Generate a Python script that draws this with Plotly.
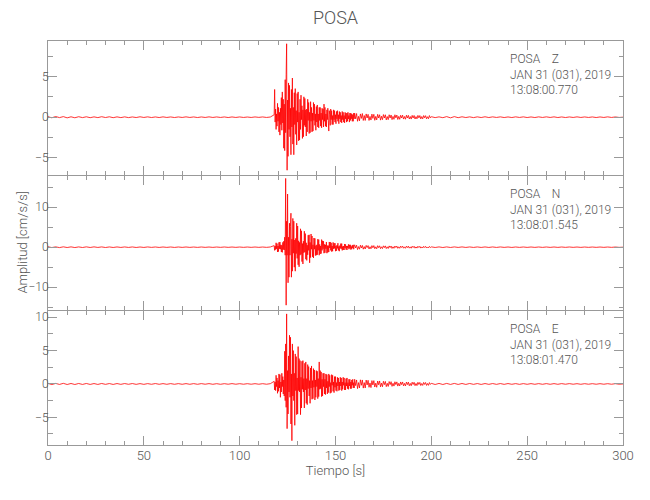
import numpy as np
import plotly.graph_objects as go

STATION = "POSA"
DATE_TXT = "JAN 31 (031), 2019"
COMPONENTS = ["Z", "N", "E"]
START_TIMES = ["13:08:00.770", "13:08:01.545", "13:08:01.470"]

T_PRE = np.arange(0, 118, 2.0)
T_MAIN = np.arange(118, 160, 0.25)
T_CODA = np.arange(160, 200, 0.5)
T_TAIL = np.arange(200, 300.5, 2.0)

# ---------------- Z component (cm/s/s) ----------------
z_pre = [0.06,-0.07,0.08,-0.05,0.07,-0.08,0.05,-0.07,0.06,-0.05,
         0.05,-0.06,0.04,-0.05,0.06,-0.04,0.05,-0.06,0.04,-0.05,
         0.04,-0.05,0.03,-0.04,0.05,-0.03,0.04,-0.04,0.03,-0.04,
         0.04,-0.03,0.03,-0.04,0.03,-0.03,0.04,-0.03,0.03,-0.04,
         0.03,-0.03,0.04,-0.03,0.03,-0.03,0.03,-0.04,0.03,-0.03,
         0.03,-0.03,0.02,-0.03,0.03,-0.02,0.03,-0.03,0.02]
z_main = [0.3,3.4,-0.6,1.0, -1.5,0.4,-1.1,1.7, -0.5,1.2,-1.8,0.6, -2.2,1.1,-0.9,2.4,
          -1.6,3.1,-0.7,2.2, -3.8,1.6,-4.1,4.6, -1.9,5.2,9.0,-6.5, 2.1,-4.8,4.2,-1.5,
          3.9,-2.4,1.1,-4.6, 3.4,-1.2,4.8,-3.3, 1.2,-4.6,3.0,-0.9, 3.5,-2.1,0.8,-3.4,
          2.9,-0.6,3.1,-2.9, 0.6,-2.8,2.2,-1.5, 2.7,-0.3,1.4,-2.6, 0.9,-2.4,2.5,-1.0,
          2.3,-1.2,0.9,-2.3, 1.0,-1.8,2.2,-0.4, 1.8,-2.0,0.6,-1.9, 1.9,-0.5,1.2,-1.8,
          0.5,-1.7,1.8,-0.4, 1.6,-1.0,0.4,-1.6, 1.3,-0.6,1.5,-1.2, 0.4,-1.3,1.2,-0.4,
          1.2,-1.1,0.5,-1.3, 1.1,-0.3,1.0,-1.2, 1.6,-0.5,1.2,-1.1, 0.4,-1.2,0.9,-0.3,
          1.1,-0.4,-1.7,0.8, 0.3,-1.0,1.0,-0.3, 0.8,-0.9,0.2,-0.9, 0.9,-0.3,0.8,-0.6,
          0.3,-0.8,0.7,-0.2, 0.8,-0.5,0.3,-0.8, 0.7,-0.2,0.6,-0.6, 0.2,-0.7,0.7,-0.3,
          0.6,-0.6,0.2,-0.7, 0.6,-0.2,0.5,-0.6, 0.5,-0.5,0.6,-0.2, 0.2,-0.6,0.5,-0.4,
          0.5,-0.2,0.4,-0.5, 0.3,-0.5,0.5,-0.2]
z_coda = [0.5,-0.2,0.45,-0.5,0.1,-0.45,0.4,-0.15,0.45,-0.4,
          0.2,-0.4,0.4,-0.1,0.35,-0.4,0.1,-0.35,0.38,-0.15,
          0.35,-0.38,0.1,-0.33,0.35,-0.1,0.3,-0.36,0.12,-0.3,
          0.32,-0.1,0.3,-0.33,0.08,-0.3,0.3,-0.1,0.27,-0.3,
          0.1,-0.26,0.3,-0.08,0.26,-0.28,0.1,-0.26,0.24,-0.1,
          0.25,-0.23,0.08,-0.25,0.24,-0.1,0.23,-0.22,0.08,-0.23,
          0.22,-0.1,0.21,-0.22,0.07,-0.2,0.22,-0.08,0.2,-0.21,
          0.08,-0.2,0.2,-0.07,0.19,-0.2,0.06,-0.19,0.2,-0.08]
z_tail = [0.06,-0.05,0.04,-0.06,0.07,-0.08,0.07,-0.06,0.05,-0.04,
          0.04,-0.05,0.04,-0.04,0.05,-0.04,0.04,-0.03,0.04,-0.04,
          0.03,-0.04,0.04,-0.03,0.04,-0.04,0.03,-0.04,0.04,-0.03,
          0.04,-0.03,0.04,-0.04,0.03,-0.04,0.03,-0.03,0.04,-0.03,
          0.03,-0.03,0.03,-0.04,0.03,-0.03,0.04,-0.03,0.03,-0.03,
          0.0]

# ---------------- N component ----------------
n_pre = [0.1,-0.09,0.08,-0.1,0.09,-0.08,0.08,-0.09,0.07,-0.08,
         0.08,-0.07,0.08,-0.06,0.07,-0.08,0.06,-0.07,0.06,-0.06,
         0.06,-0.06,0.06,-0.07,0.05,-0.06,0.06,-0.05,0.05,-0.06,
         0.05,-0.05,0.05,-0.06,0.05,-0.05,0.05,-0.05,0.04,-0.05,
         0.05,-0.04,0.04,-0.05,0.04,-0.04,0.05,-0.04,0.04,-0.04,
         0.04,-0.04,0.04,-0.04,0.04,-0.04,0.04,-0.04,0.05]
n_main = [0.4,-0.8,0.3,-0.6, 1.1,-0.4,0.9,-1.2, 0.3,-1.1,1.2,-0.4, 1.3,-0.5,0.6,-1.2,
          0.5,-1.3,1.2,-0.6, 1.5,-0.7,2.5,-2.0, 17.2,-14.5,6.5,-2.0, 13.3,-8.9,2.5,-7.5,
          6.0,-2.0,5.2,8.5, -7.5,2.0,-6.0,7.2, -1.5,6.5,-5.0,1.8, -6.0,2.2,-1.6,6.0,
          -2.8,5.3,-4.4,1.6, -4.9,1.2,-2.0,4.6, -1.8,4.1,-3.6,0.9, -4.2,1.5,-1.4,4.0,
          -1.2,3.4,-3.0,1.1, -3.3,0.5,-1.9,3.0, -0.8,3.1,-3.9,1.2, -2.6,3.3,-0.5,2.8,
          -2.4,0.6,-2.7,2.3, -0.5,2.2,-2.1,0.4, -2.0,0.6,-1.9,2.0, -0.8,1.9,-2.0,0.7,
          -1.7,0.3,-1.6,1.9, -0.8,1.6,-0.4,1.5, -1.5,0.7,-1.4,0.6, -0.4,1.3,-1.5,0.4,
          -1.3,0.4,-1.2,1.3, -0.2,1.3,-0.8,1.1, -1.1,0.3,-1.0,1.2, -0.4,1.0,-0.3,1.0,
          -1.0,0.3,-0.9,0.5, -0.3,1.0,-0.8,0.2, -1.0,0.4,-0.3,0.9, -0.4,0.9,-0.8,0.2,
          -0.7,0.3,-0.7,0.8, -0.2,0.7,-0.6,0.3, -0.7,0.3,-0.2,0.7, -0.5,0.6,-0.3,0.6,
          -0.6,0.2,-0.5,0.5, -0.2,0.6,-0.5,0.3]
n_coda = [0.6,-0.2,0.5,-0.6,0.15,-0.5,0.5,-0.2,0.45,-0.5,
          0.15,-0.45,0.45,-0.1,0.4,-0.45,0.12,-0.4,0.4,-0.15,
          0.4,-0.38,0.1,-0.4,0.38,-0.12,0.35,-0.37,0.1,-0.35,
          0.34,-0.1,0.33,-0.34,0.1,-0.32,0.32,-0.1,0.3,-0.31,
          0.1,-0.28,0.29,-0.08,0.27,-0.28,0.1,-0.27,0.26,-0.08,
          0.27,-0.25,0.08,-0.27,0.25,-0.1,0.26,-0.24,0.08,-0.25,
          0.24,-0.08,0.24,-0.24,0.07,-0.23,0.23,-0.08,0.22,-0.23,
          0.07,-0.21,0.21,-0.07,0.2,-0.21,0.06,-0.2,0.2,-0.07]
n_tail = [0.08,-0.07,0.07,-0.08,0.07,-0.07,0.07,-0.06,0.07,-0.06,
          0.06,-0.06,0.06,-0.06,0.06,-0.06,0.06,-0.06,0.06,-0.05,
          0.05,-0.06,0.05,-0.05,0.05,-0.05,0.05,-0.05,0.05,-0.05,
          0.05,-0.05,0.05,-0.05,0.05,-0.04,0.05,-0.04,0.04,-0.05,
          0.04,-0.04,0.04,-0.04,0.04,-0.04,0.04,-0.04,0.04,-0.04,
          0.0]

# ---------------- E component ----------------
e_pre = [0.08,-0.09,0.08,-0.07,0.09,-0.08,0.07,-0.08,0.07,-0.07,
         0.07,-0.07,0.06,-0.07,0.07,-0.06,0.06,-0.07,0.06,-0.06,
         0.06,-0.05,0.06,-0.06,0.05,-0.06,0.05,-0.05,0.06,-0.05,
         0.05,-0.05,0.05,-0.05,0.05,-0.05,0.05,-0.05,0.05,-0.05,
         0.05,-0.04,0.05,-0.05,0.04,-0.05,0.04,-0.04,0.05,-0.04,
         0.04,-0.04,0.04,-0.04,0.04,-0.04,0.04,-0.04,0.04]
e_main = [0.4,-0.9,0.3,-1.0, 1.3,-0.4,0.9,-1.4, 0.5,-1.1,1.5,-0.6, 1.4,-2.0,0.3,-1.2,
          1.6,-0.4,1.1,-1.5, 0.6,-1.8,4.9,-2.5, 6.0,-3.5,10.5,-6.7, 2.0,-4.5,4.2,-1.2,
          7.3,-2.0,7.0,-6.0, 1.5,-8.5,6.0,-1.8, 5.0,-2.5,1.6,-6.2, 4.5,-1.0,4.1,-4.6,
          0.9,-4.5,5.6,-1.0, 3.8,-1.2,3.5,-4.6, 1.0,-3.6,3.4,-0.8, 3.5,-1.2,0.8,-3.6,
          3.1,-0.9,3.3,-2.9, 0.8,-3.1,2.9,-0.7, 2.6,-1.8,0.5,-2.9, 2.4,-0.6,2.7,-2.3,
          0.5,-2.2,2.3,-0.5, 2.1,-2.4,0.6,-2.0, 2.0,-0.4,1.9,-2.2, 0.8,-1.9,3.3,-0.8,
          2.0,-0.7,1.8,-1.9, 0.7,-1.8,1.6,-0.4, 1.6,-1.5,0.7,-1.6, 1.5,-0.6,1.4,-1.5,
          0.4,-1.3,1.5,-0.4, 1.3,-1.4,0.2,-1.3, 1.4,-0.2,1.3,-1.1, 0.3,-1.3,1.1,-0.5,
          1.1,-1.0,0.2,-1.1, 1.0,-0.3,0.9,-1.0, 0.3,-0.9,1.0,-0.3, 0.9,-1.0,0.3,-0.8,
          1.0,-0.2,0.9,-0.9, 0.2,-0.9,0.8,-0.3, 0.9,-0.7,0.2,-0.8, 0.7,-0.3,0.7,-0.7,
          0.3,-0.7,0.6,-0.2, 0.7,-0.6,0.2,-0.6]
e_coda = [0.7,-0.25,0.6,-0.7,0.2,-0.6,0.62,-0.2,0.6,-0.62,
          0.2,-0.6,0.58,-0.15,0.55,-0.5,0.15,-0.55,0.5,-0.15,
          0.5,-0.46,0.12,-0.5,0.44,-0.12,0.45,-0.43,0.12,-0.42,
          0.4,-0.1,0.38,-0.4,0.1,-0.37,0.36,-0.1,0.34,-0.36,
          0.1,-0.32,0.33,-0.1,0.31,-0.32,0.1,-0.3,0.3,-0.1,
          0.3,-0.29,0.08,-0.3,0.28,-0.1,0.28,-0.27,0.08,-0.27,
          0.26,-0.08,0.25,-0.26,0.08,-0.25,0.25,-0.08,0.23,-0.24,
          0.07,-0.22,0.23,-0.07,0.22,-0.22,0.07,-0.21,0.21,-0.07]
e_tail = [0.09,-0.08,0.08,-0.08,0.08,-0.07,0.08,-0.07,0.07,-0.07,
          0.07,-0.06,0.06,-0.07,0.06,-0.06,0.06,-0.06,0.06,-0.06,
          0.06,-0.05,0.05,-0.06,0.05,-0.05,0.05,-0.05,0.05,-0.05,
          0.05,-0.05,0.05,-0.05,0.05,-0.04,0.05,-0.04,0.04,-0.05,
          0.04,-0.04,0.04,-0.04,0.04,-0.04,0.04,-0.04,0.04,-0.04,
          0.0]

Y_RANGES = [[-7.04, 9.34], [-15.6, 17.9], [-9.15, 11.0]]
Y_DTICK = [5, 10, 5]

TIME = np.concatenate([T_PRE, T_MAIN, T_CODA, T_TAIL])
SERIES = [z_pre + z_main + z_coda + z_tail,
          n_pre + n_main + n_coda + n_tail,
          e_pre + e_main + e_coda + e_tail]

FONT = "Roboto, Liberation Sans, sans-serif"
GRAY = "#555555"
AXC = "#999999"

fig = go.Figure()
g = 0.00124
domains = [[0.668 + g, 1.0], [0.334 + g, 0.668 - g], [0.0, 0.334 - g]]
for i, (vals, comp, t0) in enumerate(zip(SERIES, COMPONENTS, START_TIMES)):
    sfx = "" if i == 0 else str(i + 1)
    fig.add_trace(go.Scatter(x=TIME, y=vals, mode="lines",
                             line=dict(color="#ff0000", width=0.8, simplify=False),
                             xaxis="x" + sfx, yaxis="y" + sfx, showlegend=False,
                             hoverinfo="skip"))
    fig.update_layout(**{
        "xaxis" + sfx: dict(domain=[0, 1], range=[0, 300], anchor="y" + sfx,
                            showline=True, linecolor=AXC, linewidth=1, mirror="allticks",
                            ticks="inside", ticklen=9, tickcolor=AXC, dtick=50, tick0=0,
                            minor=dict(ticks="inside", ticklen=4, dtick=10, tickcolor=AXC),
                            showgrid=False, zeroline=False, automargin=False,
                            showticklabels=(i == 2), ticklabelstandoff=-2,
                            tickfont=dict(family=FONT, size=13, color=GRAY, weight=300)),
        "yaxis" + sfx: dict(domain=domains[i], range=Y_RANGES[i], anchor="x" + sfx,
                            showline=True, linecolor=AXC, linewidth=1, mirror="allticks",
                            ticks="inside", ticklen=9, tickcolor=AXC,
                            dtick=Y_DTICK[i], tick0=0,
                            minor=dict(ticks="inside", ticklen=4.5, dtick=Y_DTICK[i] / 2,
                                       tickcolor=AXC),
                            showgrid=False, zeroline=False, automargin=False,
                            ticklabelstandoff=-4,
                            tickfont=dict(family=FONT, size=12, color=GRAY, weight=300)),
    })
    fig.add_annotation(xref="paper", yref="y" + sfx + " domain", x=0.7996, y=0.93,
                       xanchor="left", yanchor="top", align="left", showarrow=False,
                       text=f"{STATION}\u00a0\u00a0\u00a0\u00a0{comp}<br>{DATE_TXT}<br>{t0}",
                       font=dict(family=FONT, size=12, color=GRAY, weight=300))

# y-axis title shared by the three panels
fig.add_annotation(xref="paper", yref="paper", x=-0.046, y=0.5, xanchor="center",
                   yanchor="middle", textangle=-90, showarrow=False,
                   text="Amplitud [cm/s/s]",
                   font=dict(family=FONT, size=13, color=GRAY, weight=300))

fig.update_layout(
    width=650, height=500,
    margin=dict(l=40, r=35, t=33, b=63, autoexpand=False),
    paper_bgcolor="white", plot_bgcolor="white",
    title=dict(text=STATION, x=0.5, xref="paper", y=1 - 10 / 500, yref="container",
               xanchor="center", yanchor="middle",
               font=dict(family=FONT, size=18, color=GRAY, weight=300)),
)
fig.update_layout(xaxis3=dict(title=dict(text="Tiempo [s]", standoff=4,
                                         font=dict(family=FONT, size=13, color=GRAY,
                                                   weight=300))))

fig.write_html("out.html")
